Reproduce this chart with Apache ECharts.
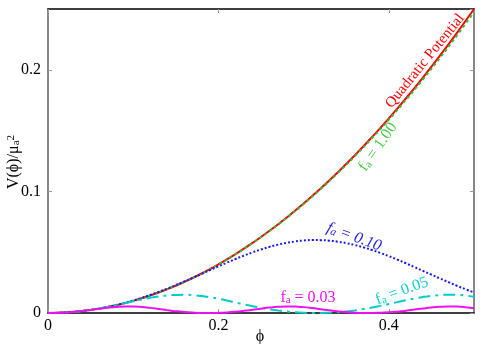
<!DOCTYPE html>
<html>
<head>
<meta charset="utf-8">
<script src="https://cdn.jsdelivr.net/npm/echarts@6/dist/echarts.min.js"></script>
<style>
  html, body { margin: 0; padding: 0; background: #fff; }
  #chart-container { width: 492px; height: 344px; }
</style>
</head>
<body>
<div id="chart-container"></div>
<script>
// phi grid (fine, for the oscillating curves) and coarse grid for the smooth ones
var phiFine = [0, 0.01, 0.02, 0.03, 0.04, 0.05, 0.06, 0.07, 0.08, 0.09,
    0.10, 0.11, 0.12, 0.13, 0.14, 0.15, 0.16, 0.17, 0.18, 0.19,
    0.20, 0.21, 0.22, 0.23, 0.24, 0.25, 0.26, 0.27, 0.28, 0.29,
    0.30, 0.31, 0.32, 0.33, 0.34, 0.35, 0.36, 0.37, 0.38, 0.39,
    0.40, 0.41, 0.42, 0.43, 0.44, 0.45, 0.46, 0.47, 0.48, 0.49, 0.50];
var phiCoarse = [0, 0.02, 0.04, 0.06, 0.08, 0.10, 0.12, 0.14, 0.16, 0.18,
    0.20, 0.22, 0.24, 0.26, 0.28, 0.30, 0.32, 0.34, 0.36, 0.38,
    0.40, 0.42, 0.44, 0.46, 0.48, 0.50];

var quadratic = [0, 0.0004, 0.0016, 0.0036, 0.0064, 0.01, 0.0144, 0.0196, 0.0256, 0.0324,
    0.04, 0.0484, 0.0576, 0.0676, 0.0784, 0.09, 0.1024, 0.1156, 0.1296, 0.1444,
    0.16, 0.1764, 0.1936, 0.2116, 0.2304, 0.25];
var fa100 = [0, 0.0004, 0.0016, 0.0036, 0.0064, 0.01, 0.01439, 0.01958, 0.02557, 0.03236,
    0.03994, 0.04831, 0.05747, 0.06742, 0.07815, 0.08968, 0.10198, 0.11507, 0.12893, 0.14357,
    0.15898, 0.17516, 0.1921, 0.20981, 0.22828, 0.2475];
var fa010 = [0, 0.0001, 0.0004, 0.0009, 0.00161, 0.00252, 0.00365, 0.00498, 0.00653, 0.00828,
    0.01025, 0.01242, 0.01479, 0.01733, 0.02005, 0.0229, 0.02588, 0.02895, 0.03207, 0.03522,
    0.03835, 0.04142, 0.04439, 0.04721, 0.04984, 0.05224, 0.05438, 0.05621, 0.05771, 0.05884,
    0.0596, 0.05997, 0.05993, 0.0595, 0.05868, 0.05748, 0.05592, 0.05404, 0.05186, 0.04941,
    0.04675, 0.0439, 0.04091, 0.03783, 0.03469, 0.03155, 0.02843, 0.02537, 0.02241, 0.01958, 0.01689];
var fa005 = [0, 0.0001, 0.0004, 0.00091, 0.00163, 0.00256, 0.0037, 0.00501, 0.00647, 0.00802,
    0.00959, 0.0111, 0.01246, 0.01359, 0.01443, 0.0149, 0.01498, 0.01467, 0.01398, 0.01296,
    0.01169, 0.01023, 0.00867, 0.00711, 0.0056, 0.00422, 0.00301, 0.00199, 0.00119, 0.00059,
    0.0002, 0.00002, 0.00003, 0.00025, 0.00067, 0.00131, 0.00215, 0.0032, 0.00444, 0.00585,
    0.00737, 0.00894, 0.01048, 0.01192, 0.01316, 0.01412, 0.01475, 0.01499, 0.01485, 0.01431, 0.01342];
var fa003 = [0, 0.0001, 0.00041, 0.00092, 0.00164, 0.00251, 0.00345, 0.00433, 0.00501, 0.00536,
    0.00533, 0.00492, 0.00421, 0.00331, 0.00237, 0.00152, 0.00083, 0.00035, 0.00007, 0,
    0.00013, 0.00047, 0.00102, 0.00176, 0.00265, 0.00359, 0.00445, 0.00508, 0.00539, 0.0053,
    0.00483, 0.00408, 0.00317, 0.00224, 0.00141, 0.00075, 0.00029, 0.00005, 0.00001, 0.00017,
    0.00054, 0.00112, 0.00189, 0.00279, 0.00373, 0.00456, 0.00515, 0.0054, 0.00525, 0.00474, 0.00395];

var FONT = 'Liberation Serif';

function pairs(xs, ys) {
    return xs.map(function (x, i) { return [x, ys[i]]; });
}

// "f_a = ..." style label with a subscript
function faText(value) {
    return '{f|f}{s|a}{m| = ' + value + '}';
}
function faRich(color, italic) {
    var st = italic ? 'italic' : 'normal';
    return {
        f: { fontFamily: FONT, fontSize: 16, fontStyle: st, fill: color, lineHeight: 16 },
        s: { fontFamily: FONT, fontSize: 11, fontStyle: st, fill: color, lineHeight: 4, verticalAlign: 'bottom' },
        m: { fontFamily: FONT, fontSize: 16, fontStyle: st, fill: color, lineHeight: 16 }
    };
}
function deg(d) { return d * Math.PI / 180; }

var dom = document.getElementById('chart-container');
var myChart = echarts.init(dom, null, { renderer: 'canvas' });

var tickLabel = { fontFamily: FONT, fontSize: 16, color: '#000' };

var option = {
    animation: false,
    backgroundColor: '#fff',
    grid: { left: 48, right: 18, top: 9, bottom: 31 },
    xAxis: [
        {
            type: 'value', min: 0, max: 0.5, interval: 0.2, position: 'bottom',
            axisLine: { onZero: false, lineStyle: { color: '#000', width: 1.5 } },
            axisTick: { inside: true, length: 4, lineStyle: { color: '#999' } },
            axisLabel: Object.assign({ margin: 5, showMaxLabel: false }, tickLabel),
            splitLine: { show: false }
        },
        {
            type: 'value', min: 0, max: 0.5, interval: 0.2, position: 'top',
            axisLine: { onZero: false, lineStyle: { color: '#000', width: 1.5 } },
            axisTick: { inside: true, length: 4, lineStyle: { color: '#999' } },
            axisLabel: { show: false },
            splitLine: { show: false }
        }
    ],
    yAxis: [
        {
            type: 'value', min: 0, max: 0.25, interval: 0.1, position: 'left',
            axisLine: { show: true, onZero: false, lineStyle: { color: '#888', width: 2 } },
            axisTick: { show: true, inside: true, length: 4, lineStyle: { color: '#999' } },
            axisLabel: Object.assign({ margin: 7, showMaxLabel: false }, tickLabel),
            splitLine: { show: false }
        },
        {
            type: 'value', min: 0, max: 0.25, interval: 0.1, position: 'right',
            axisLine: { show: true, onZero: false, lineStyle: { color: '#888', width: 2 } },
            axisTick: { show: true, inside: true, length: 4, lineStyle: { color: '#999' } },
            axisLabel: { show: false },
            splitLine: { show: false }
        }
    ],
    series: [
        {
            name: 'Quadratic Potential', type: 'line', showSymbol: false, smooth: true,
            data: pairs(phiCoarse, quadratic),
            lineStyle: { color: '#ff0000', width: 2 }, z: 2
        },
        {
            name: 'fa = 1.00', type: 'line', showSymbol: false, smooth: true,
            data: pairs(phiCoarse, fa100),
            lineStyle: { color: '#33bb33', width: 2, type: [3, 3] }, z: 3
        },
        {
            name: 'fa = 0.10', type: 'line', showSymbol: false, smooth: true,
            data: pairs(phiFine, fa010),
            lineStyle: { color: '#1a1aee', width: 2, type: [2, 2] }, z: 3
        },
        {
            name: 'fa = 0.05', type: 'line', showSymbol: false, smooth: true,
            data: pairs(phiFine, fa005),
            lineStyle: { color: '#00cccc', width: 2, type: [12, 5, 3, 5] }, z: 3
        },
        {
            name: 'fa = 0.03', type: 'line', showSymbol: false, smooth: true,
            data: pairs(phiFine, fa003),
            lineStyle: { color: '#ee11ee', width: 2 }, z: 4
        }
    ],
    graphic: [
        {
            type: 'text', x: 14, y: 162, rotation: deg(90),
            style: {
                text: '{m|V(ϕ)/μ}{s|a}{p|2}',
                align: 'center', verticalAlign: 'middle',
                rich: {
                    m: { fontFamily: FONT, fontSize: 16, fill: '#000', lineHeight: 16 },
                    s: { fontFamily: FONT, fontSize: 11, fill: '#000', lineHeight: 4, verticalAlign: 'bottom' },
                    p: { fontFamily: FONT, fontSize: 11, fill: '#000', lineHeight: 4, verticalAlign: 'top' }
                }
            }
        },
        {
            type: 'text', x: 260, y: 337,
            style: { text: 'ϕ', fontFamily: FONT, fontSize: 16, fill: '#000', align: 'center', verticalAlign: 'middle' }
        },
        {
            type: 'text', x: 425, y: 61, rotation: deg(51),
            style: { text: 'Quadratic Potential', fontFamily: FONT, fontSize: 15, fill: '#ff0000', align: 'center', verticalAlign: 'middle' }
        },
        {
            type: 'text', x: 378, y: 147, rotation: deg(55),
            style: { text: faText('1.00'), rich: faRich('#44cc44', false), align: 'center', verticalAlign: 'middle' }
        },
        {
            type: 'text', x: 354, y: 237, rotation: deg(-20),
            style: { text: faText('0.10'), rich: faRich('#2222dd', true), align: 'center', verticalAlign: 'middle' }
        },
        {
            type: 'text', x: 402, y: 291, rotation: deg(20),
            style: { text: faText('0.05'), rich: faRich('#11cccc', false), align: 'center', verticalAlign: 'middle' }
        },
        {
            type: 'text', x: 308, y: 298,
            style: { text: faText('0.03'), rich: faRich('#ee11ee', false), align: 'center', verticalAlign: 'middle' }
        }
    ]
};

myChart.setOption(option);

window.addEventListener('resize', myChart.resize);
</script>
</body>
</html>
